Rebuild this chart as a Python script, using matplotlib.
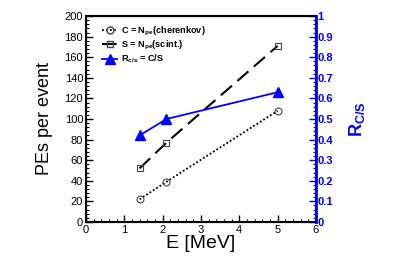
import matplotlib.pyplot as plt
from matplotlib.ticker import MultipleLocator
from matplotlib.lines import Line2D

plt.rcParams["font.family"] = ["Liberation Sans", "DejaVu Sans"]
plt.rcParams["mathtext.fontset"] = "custom"
plt.rcParams["mathtext.rm"] = "Liberation Sans"
plt.rcParams["mathtext.bf"] = "Liberation Sans:bold"
plt.rcParams["mathtext.it"] = "Liberation Sans:italic"

# energy points and measured values
energy = [1.4, 2.1, 5.0]
pe_cherenkov = [22, 39, 108]
pe_scint = [52, 77, 171]
ratio_cs = [0.42, 0.50, 0.63]

blue = "#0000ff"

fig = plt.figure(figsize=(3.94, 2.68), dpi=100)
ax = fig.add_axes([0.218, 0.172, 0.584, 0.768])

ax.plot(energy, pe_cherenkov, color="black", linestyle=(0, (1, 1.2)), linewidth=1.3,
        marker="o", markersize=5, markerfacecolor="none", markeredgecolor="#444444",
        markeredgewidth=0.8)
ax.plot(energy, pe_scint, color="black", linestyle=(0, (7, 3.5)), linewidth=1.5,
        marker="s", markersize=5, markerfacecolor="none", markeredgecolor="#444444",
        markeredgewidth=0.8)

ax.set_xlim(0, 6)
ax.set_ylim(0, 200)
ax.xaxis.set_major_locator(MultipleLocator(1))
ax.xaxis.set_minor_locator(MultipleLocator(0.2))
ax.yaxis.set_major_locator(MultipleLocator(20))
ax.yaxis.set_minor_locator(MultipleLocator(4))
ax.tick_params(which="both", direction="in", top=False, right=False, labelsize=8, pad=2)
ax.tick_params(which="major", length=5, width=1)
ax.tick_params(which="minor", length=2.5, width=0.8)
for s in ax.spines.values():
    s.set_linewidth(1.5)
ax.set_xlabel("E [MeV]", fontsize=14, labelpad=0)
ax.set_ylabel("PEs per event", fontsize=13, labelpad=8)

ax2 = ax.twinx()
ax2.plot(energy, ratio_cs, color=blue, linewidth=1.3, marker="^", markersize=6.5,
         markerfacecolor=blue, markeredgecolor=blue)
ax2.set_ylim(0, 1)
ax2.yaxis.set_major_locator(MultipleLocator(0.1))
ax2.yaxis.set_minor_locator(MultipleLocator(0.02))
ax2.set_yticks([0, 0.1, 0.2, 0.3, 0.4, 0.5, 0.6, 0.7, 0.8, 0.9, 1.0])
ax2.set_yticklabels(["0", "0.1", "0.2", "0.3", "0.4", "0.5", "0.6", "0.7", "0.8", "0.9", "1"])
ax2.tick_params(which="both", direction="in", colors=blue, labelsize=8, pad=1)
ax2.tick_params(which="major", length=5, width=1)
ax2.tick_params(which="minor", length=2.5, width=0.8)
for lbl in ax2.get_yticklabels():
    lbl.set_fontweight("bold")
ax2.spines["right"].set_color(blue)
ax2.spines["right"].set_linewidth(2)
ax2.set_ylabel(r"$\mathbf{R}_{\mathbf{C/S}}$", color=blue, fontsize=13, labelpad=10)

handles = [
    Line2D([], [], color="black", linestyle=(0, (1, 1.2)), linewidth=1.3, marker="o",
           markersize=5, markerfacecolor="none", markeredgecolor="#444444"),
    Line2D([], [], color="black", linestyle=(0, (7, 3.5)), linewidth=1.5, marker="s",
           markersize=5, markerfacecolor="none", markeredgecolor="#444444"),
    Line2D([], [], color=blue, linewidth=1.3, marker="^", markersize=6.5,
           markerfacecolor=blue, markeredgecolor=blue),
]
labels = [r"C = N$_{\mathbf{pe}}$(cherenkov)", r"S = N$_{\mathbf{pe}}$(scint.)",
          r"R$_{\mathbf{c/s}}$ = C/S"]
leg = ax.legend(handles, labels, loc="upper left", bbox_to_anchor=(0.055, 0.976), frameon=False,
                fontsize=6.6, handlelength=1.6, handletextpad=0.5, labelspacing=0.1,
                borderaxespad=0)
for t in leg.get_texts():
    t.set_fontweight("bold")

fig.savefig("out.png", dpi=100)
